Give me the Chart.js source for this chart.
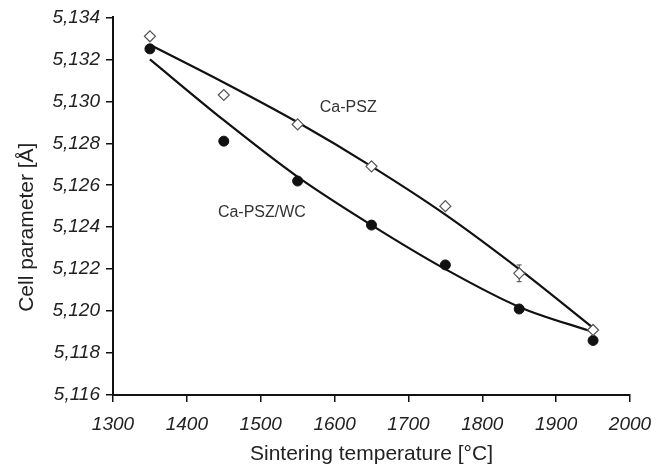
<!DOCTYPE html>
<html>
<head>
<meta charset="utf-8">
<title>Cell parameter vs sintering temperature</title>
<script src="https://cdn.jsdelivr.net/npm/chart.js@4/dist/chart.umd.min.js"></script>
<style>
	html, body { margin: 0; padding: 0; background: #fff; }
	#wrap { width: 665px; height: 467px; position: relative; }
</style>
</head>
<body>
<div id="wrap"><canvas id="cellChart"></canvas></div>
<script>
// 소결 온도 (°C)
var temps = [1350, 1450, 1550, 1650, 1750, 1850, 1950];

// 측정값 (Å)
var psz = [5.1331, 5.1303, 5.1289, 5.1269, 5.1250, 5.1218, 5.1191];
var pszErr = [0, 0, 0, 0, 0, 0.0004, 0];
var pszWc = [5.1325, 5.1281, 5.1262, 5.1241, 5.1222, 5.1201, 5.1186];

// 추세선
var pszFit = [5.1327, 5.1309, 5.1290, 5.1269, 5.1246, 5.1220, 5.1192];
var pszWcFit = [5.1320, 5.1291, 5.1264, 5.1241, 5.1220, 5.1202, 5.1190];

var seriesNames = ['Ca-PSZ', 'Ca-PSZ/WC'];

var xTicks = [1300, 1400, 1500, 1600, 1700, 1800, 1900, 2000];
var yTicks = [5.116, 5.118, 5.120, 5.122, 5.124, 5.126, 5.128, 5.130, 5.132, 5.134];

var xTitle = 'Sintering temperature [°C]';
var yTitle = 'Cell parameter [Å]';

function toPoints(xs, ys) {
	return xs.map(function(x, i) { return { x: x, y: ys[i] }; });
}

var FONT = "'Liberation Sans', Arial, sans-serif";

// 에러바 (마커 아래에 그림)
var errorBars = {
	id: 'errorBars',
	beforeDatasetsDraw: function(chart) {
		var ctx = chart.ctx;
		var xs = chart.scales.x, ys = chart.scales.y;
		ctx.save();
		ctx.strokeStyle = '#444';
		ctx.lineWidth = 1;
		for (var i = 0; i < temps.length; i++) {
			if (!pszErr[i]) continue;
			var px = xs.getPixelForValue(temps[i]);
			var top = ys.getPixelForValue(psz[i] + pszErr[i]);
			var bot = ys.getPixelForValue(psz[i] - pszErr[i]);
			ctx.beginPath();
			ctx.moveTo(px, top); ctx.lineTo(px, bot);
			ctx.moveTo(px - 2.5, top); ctx.lineTo(px + 2.5, top);
			ctx.moveTo(px - 2.5, bot); ctx.lineTo(px + 2.5, bot);
			ctx.stroke();
		}
		ctx.restore();
	}
};

// 곡선 옆 시리즈 이름 + 세로축 제목 (축 중앙보다 약간 아래)
var seriesLabels = {
	id: 'seriesLabels',
	afterDatasetsDraw: function(chart) {
		var ctx = chart.ctx;
		var xs = chart.scales.x, ys = chart.scales.y;
		var spots = [[1580, 5.1297], [1442, 5.1247]];
		ctx.save();
		ctx.fillStyle = '#333';
		ctx.font = '16px ' + FONT;
		ctx.textAlign = 'left';
		ctx.textBaseline = 'middle';
		for (var i = 0; i < seriesNames.length; i++) {
			ctx.fillText(seriesNames[i], xs.getPixelForValue(spots[i][0]), ys.getPixelForValue(spots[i][1]));
		}

		var area = chart.chartArea;
		ctx.translate(27, (area.top + area.bottom) / 2 + 21);
		ctx.rotate(-Math.PI / 2);
		ctx.fillStyle = '#222';
		ctx.font = '21px ' + FONT;
		ctx.textAlign = 'center';
		ctx.fillText(yTitle, 0, 0);
		ctx.restore();
	}
};

var ctx = document.getElementById('cellChart').getContext('2d');
var cell_chart = new Chart(ctx, {
	type: 'scatter',
	data: {
		datasets: [{
			label: seriesNames[0],
			data: toPoints(temps, psz),
			pointStyle: 'rectRot',
			pointRadius: 5.5,
			pointBackgroundColor: '#fff',
			pointBorderColor: '#555',
			pointBorderWidth: 1.2,
			showLine: false
		}, {
			label: seriesNames[1],
			data: toPoints(temps, pszWc),
			pointStyle: 'circle',
			pointRadius: 5,
			pointBackgroundColor: '#111',
			pointBorderColor: '#111',
			pointBorderWidth: 1,
			showLine: false
		}, {
			label: seriesNames[0] + ' fit',
			data: toPoints(temps, pszFit),
			showLine: true,
			pointRadius: 0,
			borderColor: '#111',
			borderWidth: 2.2,
			cubicInterpolationMode: 'monotone'
		}, {
			label: seriesNames[1] + ' fit',
			data: toPoints(temps, pszWcFit),
			showLine: true,
			pointRadius: 0,
			borderColor: '#111',
			borderWidth: 2.2,
			cubicInterpolationMode: 'monotone'
		}]
	},
	options: {
		responsive: true,
		maintainAspectRatio: false,
		animation: false,
		layout: {
			padding: { left: 10, right: 35, top: 13, bottom: 0 }
		},
		scales: {
			x: {
				type: 'linear',
				min: xTicks[0],
				max: xTicks[xTicks.length - 1],
				afterBuildTicks: function(scale) {
					scale.ticks = xTicks.map(function(v) { return { value: v }; });
				},
				afterFit: function(scale) { scale.height = 72; },
				grid: {
					display: true,
					drawOnChartArea: false,
					drawTicks: true,
					tickLength: 7,
					color: '#111',
					lineWidth: 1.5
				},
				border: { display: true, color: '#111', width: 2 },
				ticks: {
					padding: 11,
					color: '#222',
					font: { family: FONT, size: 19, style: 'italic' },
					callback: function(v) { return String(v); }
				},
				title: {
					display: true,
					text: xTitle,
					color: '#222',
					padding: 0,
					font: { family: FONT, size: 21 }
				}
			},
			y: {
				type: 'linear',
				min: yTicks[0],
				max: yTicks[yTicks.length - 1],
				afterBuildTicks: function(scale) {
					scale.ticks = yTicks.map(function(v) { return { value: v }; });
				},
				afterFit: function(scale) { scale.width = 103; },
				grid: {
					display: true,
					drawOnChartArea: false,
					drawTicks: true,
					tickLength: 7,
					color: '#111',
					lineWidth: 1.5
				},
				border: { display: true, color: '#111', width: 2 },
				ticks: {
					padding: 6,
					color: '#222',
					font: { family: FONT, size: 19, style: 'italic' },
					callback: function(v) {
						return Number(v).toFixed(3).replace('.', ',');
					}
				}
			}
		},
		plugins: {
			legend: { display: false },
			tooltip: { enabled: false }
		}
	},
	plugins: [errorBars, seriesLabels]
});
</script>
</body>
</html>
